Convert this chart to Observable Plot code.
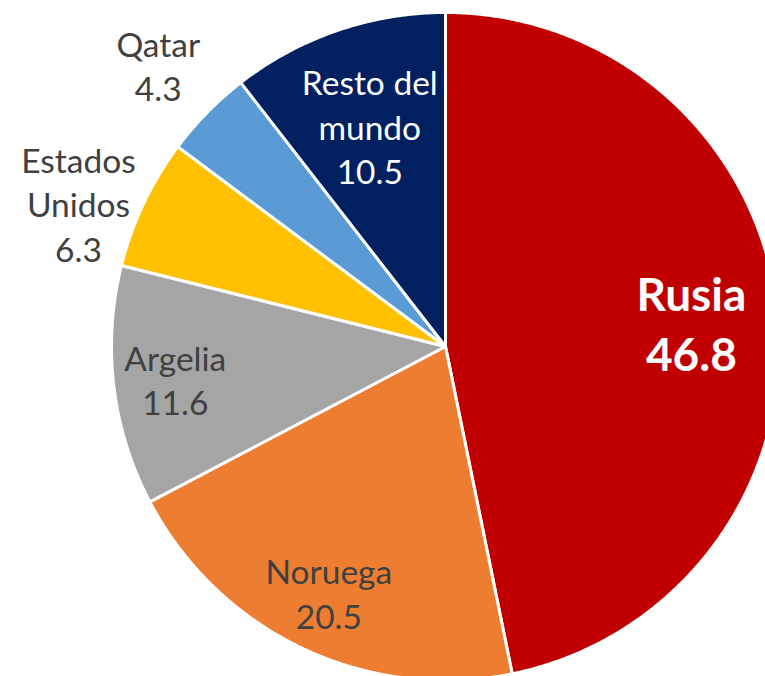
<!DOCTYPE html>
<html>
<head>
<meta charset="utf-8">
<script src="https://cdn.jsdelivr.net/npm/d3@7"></script>
<script src="https://cdn.jsdelivr.net/npm/@observablehq/plot@0.6"></script>
<style>
  html, body { margin: 0; padding: 0; background: #fff; }
  #chart { width: 765px; height: 676px; overflow: hidden; }
</style>
</head>
<body>
<div id="chart"></div>
<script>
// Data
const names  = ["Rusia", "Noruega", "Argelia", "Estados Unidos", "Qatar", "Resto del mundo"];
const labels = ["Rusia", "Noruega", "Argelia", "Estados\nUnidos", "Qatar", "Resto del\nmundo"];
const values = [46.8, 20.5, 11.6, 6.3, 4.3, 10.5];

// Styling
const colors     = ["#C00000", "#ED7D31", "#A5A5A5", "#FFC000", "#5B9BD5", "#002060"];
const textColors = ["#ffffff", "#404040", "#404040", "#404040", "#404040", "#ffffff"];
const labelRadius = [0.74, 0.815, 0.815, 1.18, 1.205, 0.70];
const labelAngleShift = [0, 0, 0, -4, 0, 0]; // degrees

const arcs = d3.pie().sort(null).value(d => d)(values);

// Build polygon vertices for each slice (angles clockwise from 12 o'clock)
const poly = [];
arcs.forEach((a, i) => {
  poly.push({name: names[i], x: 0, y: 0});
  const n = Math.max(2, Math.ceil((a.endAngle - a.startAngle) / (Math.PI / 360)));
  for (let k = 0; k <= n; k++) {
    const t = a.startAngle + (a.endAngle - a.startAngle) * k / n;
    poly.push({name: names[i], x: Math.sin(t), y: Math.cos(t)});
  }
});

const labelData = arcs.map((a, i) => {
  const m = (a.startAngle + a.endAngle) / 2 + labelAngleShift[i] * Math.PI / 180;
  const r = labelRadius[i];
  return {
    name: names[i],
    text: labels[i] + "\n" + values[i].toFixed(1),
    x: r * Math.sin(m),
    y: r * Math.cos(m),
    color: textColors[i],
    big: i === 0
  };
});

const chart = Plot.plot({
  width: 765,
  height: 676,
  margin: 0,
  x: {domain: [-1, 1], range: [111, 779], axis: null},
  y: {domain: [-1, 1], range: [680, 12], axis: null},
  color: {domain: names, range: colors},
  style: {background: "#fff"},
  marks: [
    Plot.line(poly, {
      x: "x", y: "y", z: "name",
      fill: "name",
      stroke: "#ffffff",
      strokeWidth: 3,
      strokeLinejoin: "round",
      curve: "linear-closed"
    }),
    Plot.text(labelData.filter(d => !d.big), {
      x: "x", y: "y", text: "text",
      fill: d => d.color,
      fontSize: 33.5,
      lineHeight: 1.33,
      fontFamily: "Lato, 'Open Sans', sans-serif"
    }),
    Plot.text(labelData.filter(d => d.big), {
      x: "x", y: "y", text: "text",
      fill: d => d.color,
      fontSize: 46,
      fontWeight: "bold",
      lineHeight: 1.3,
      fontFamily: "Lato, 'Open Sans', sans-serif"
    })
  ]
});

document.getElementById("chart").appendChild(chart);
</script>
</body>
</html>
